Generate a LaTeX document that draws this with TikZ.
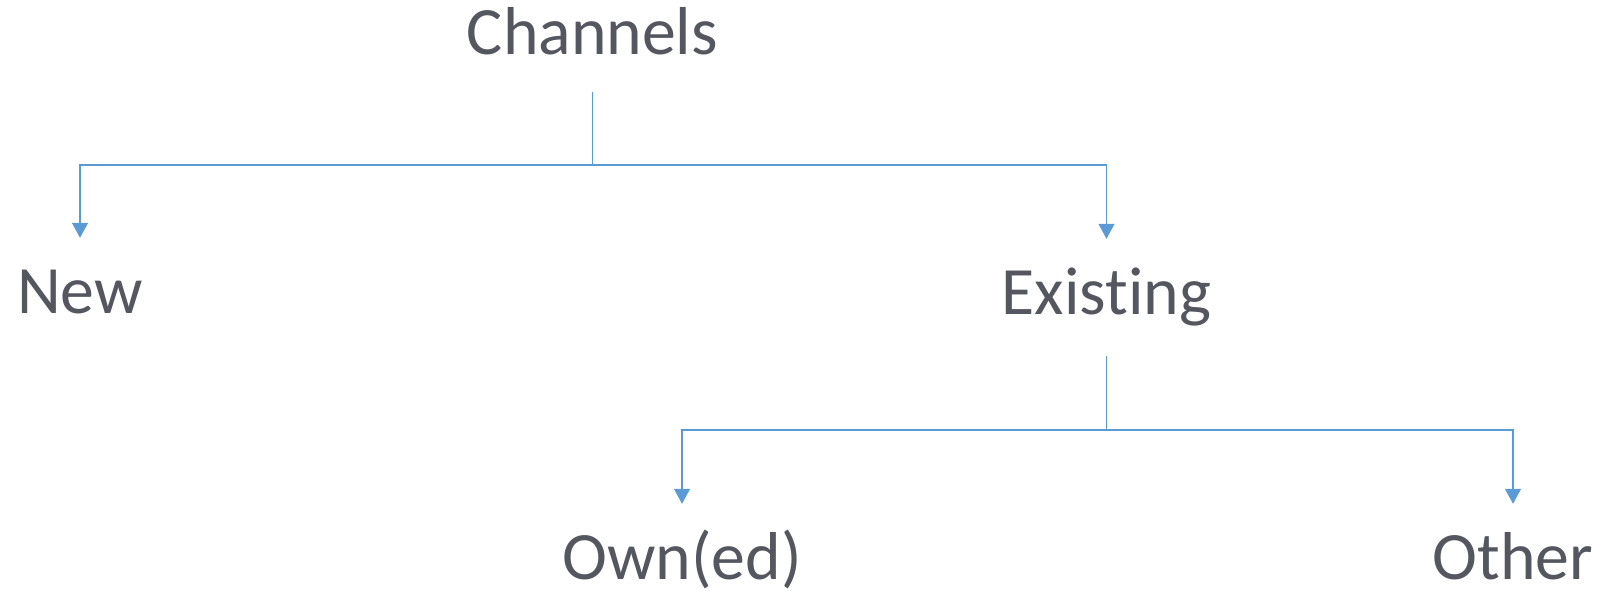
\documentclass[tikz,border=0pt]{standalone}
\usepackage{fontspec}
\setmainfont{Carlito}[Ligatures=NoCommon]
\usetikzlibrary{arrows.meta,calc}
\definecolor{txtgray}{RGB}{84,86,96}
\definecolor{lineblue}{RGB}{91,155,213}
\begin{document}
\begin{tikzpicture}[x=1bp,y=1bp,
  lbl/.style={anchor=base,inner sep=0pt,text height=44bp,text depth=0pt,text=txtgray,font=\fontsize{68}{80}\selectfont},
  conn/.style={draw=lineblue,line width=1.2bp},
  arr/.style={conn,-{Triangle[width=16bp,length=15bp]}}]
\useasboundingbox (0,0) rectangle (1604,591);
\node[lbl] (ch) at (592.5,536) {Channels};
\node[lbl] (nw) at (80,277) {New};
\node[lbl] (ex) at (1106.5,276) {Existing};
\node[lbl] (own) at (682,11) {Own(ed)};
\node[lbl] (ot) at (1513,11) {Other};
\coordinate (j1) at ($(ch.base)+(0,-110)$);
\coordinate (j2) at ($(ex.base)+(0,-115)$);
\draw[conn] ([yshift=-37bp]ch.base) -- (j1);
\draw[arr] (j1) -| ([yshift=32bp]nw.north);
\draw[arr] (j1) -| ([yshift=32bp]ex.north);
\draw[conn] ([yshift=-41bp]ex.base) -- (j2);
\draw[arr] (j2) -| ([yshift=32bp]own.north);
\draw[arr] (j2) -| ([yshift=32bp]ot.north);
\end{tikzpicture}
\end{document}
